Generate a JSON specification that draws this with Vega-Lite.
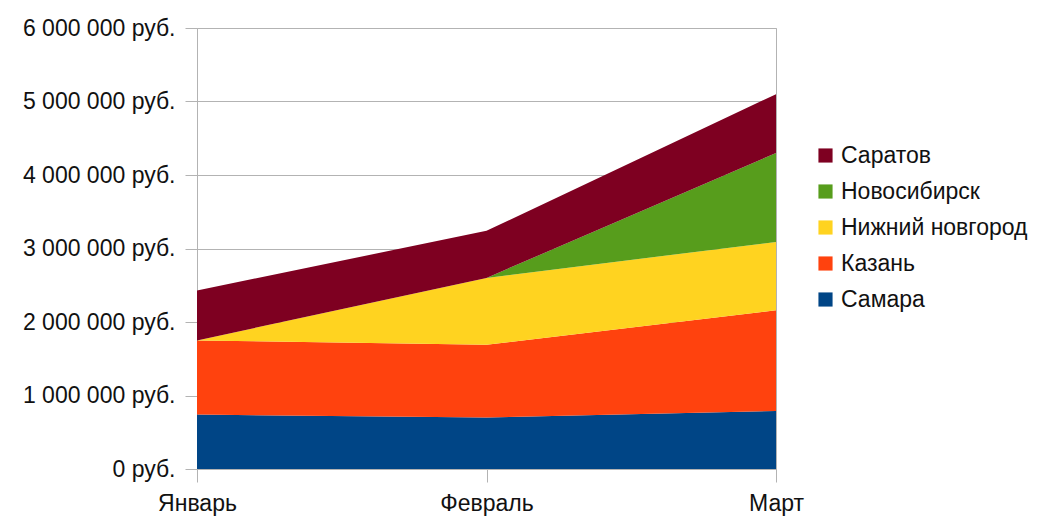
{
  "$schema": "https://vega.github.io/schema/vega-lite/v6.json",
  "width": 579,
  "height": 441,
  "autosize": {"type": "none"},
  "padding": {"left": 197, "top": 28, "right": 262, "bottom": 49},
  "background": "white",
  "config": {
    "font": "Liberation Sans",
    "view": {"stroke": "#b3b3b3", "strokeWidth": 1},
    "locale": {"number": {"decimal": ",", "thousands": " ", "grouping": [3], "currency": ["", " руб."]}}
  },
  "data": {
    "values": [
      {"month": "Январь", "city": "Самара", "rank": 1, "value": 740000},
      {"month": "Февраль", "city": "Самара", "rank": 1, "value": 700000},
      {"month": "Март", "city": "Самара", "rank": 1, "value": 790000},
      {"month": "Январь", "city": "Казань", "rank": 2, "value": 1010000},
      {"month": "Февраль", "city": "Казань", "rank": 2, "value": 990000},
      {"month": "Март", "city": "Казань", "rank": 2, "value": 1370000},
      {"month": "Январь", "city": "Нижний новгород", "rank": 3, "value": 0},
      {"month": "Февраль", "city": "Нижний новгород", "rank": 3, "value": 910000},
      {"month": "Март", "city": "Нижний новгород", "rank": 3, "value": 930000},
      {"month": "Январь", "city": "Новосибирск", "rank": 4, "value": 0},
      {"month": "Февраль", "city": "Новосибирск", "rank": 4, "value": 0},
      {"month": "Март", "city": "Новосибирск", "rank": 4, "value": 1210000},
      {"month": "Январь", "city": "Саратов", "rank": 5, "value": 680000},
      {"month": "Февраль", "city": "Саратов", "rank": 5, "value": 640000},
      {"month": "Март", "city": "Саратов", "rank": 5, "value": 800000}
    ]
  },
  "mark": {"type": "area", "opacity": 1},
  "encoding": {
    "x": {
      "field": "month",
      "type": "ordinal",
      "sort": ["Январь", "Февраль", "Март"],
      "scale": {"type": "point", "padding": 0},
      "axis": {
        "title": null,
        "labelAngle": 0,
        "labelFontSize": 23,
        "labelColor": "#111111",
        "labelPadding": 10,
        "tickSize": 13,
        "tickColor": "#b3b3b3",
        "domain": false,
        "grid": false
      }
    },
    "y": {
      "field": "value",
      "type": "quantitative",
      "stack": "zero",
      "scale": {"domain": [0, 6000000]},
      "axis": {
        "title": null,
        "values": [0, 1000000, 2000000, 3000000, 4000000, 5000000, 6000000],
        "format": "$,.0f",
        "labelFontSize": 23,
        "labelColor": "#111111",
        "labelPadding": 10,
        "tickSize": 12,
        "tickColor": "#b3b3b3",
        "gridColor": "#b3b3b3",
        "domain": false
      }
    },
    "color": {
      "field": "city",
      "type": "nominal",
      "scale": {
        "domain": ["Саратов", "Новосибирск", "Нижний новгород", "Казань", "Самара"],
        "range": ["#7e0021", "#579d1c", "#ffd320", "#ff420e", "#004586"]
      },
      "legend": {
        "title": null,
        "orient": "none",
        "legendX": 617,
        "legendY": 116,
        "symbolType": "square",
        "symbolSize": 200,
        "symbolStrokeWidth": 0,
        "labelFontSize": 23,
        "labelColor": "#111111",
        "labelOffset": 4,
        "labelLimit": 0,
        "rowPadding": 12
      }
    },
    "order": {"field": "rank", "type": "quantitative"}
  }
}
